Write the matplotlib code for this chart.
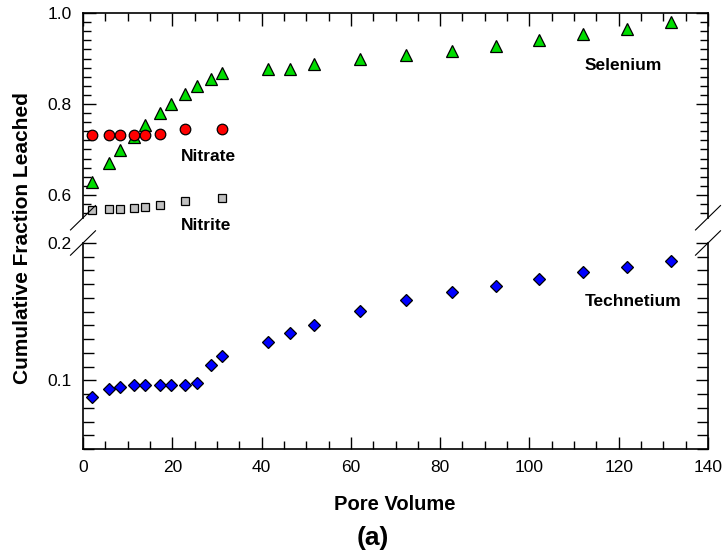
import matplotlib.pyplot as plt
from matplotlib.ticker import MultipleLocator, FixedLocator, FormatStrFormatter
from matplotlib.lines import Line2D

plt.rcParams["font.family"] = ["Liberation Sans", "DejaVu Sans"]

# pore volumes for each sampling interval
pore_volume = [1.95, 5.8, 8.3, 11.5, 13.9, 17.2, 19.6, 22.9, 25.5, 28.6, 31.1,
               41.4, 46.4, 51.8, 62.0, 72.4, 82.6, 92.4, 102.2, 112.1, 121.9, 131.6]

selenium = [0.629, 0.671, 0.699, 0.727, 0.753, 0.780, 0.800, 0.823, 0.840, 0.854, 0.869,
            0.878, 0.878, 0.888, 0.898, 0.908, 0.917, 0.927, 0.941, 0.954, 0.965, 0.980]

technetium = [0.0876, 0.0939, 0.0954, 0.0963, 0.0963, 0.0966, 0.0966, 0.0969, 0.0978, 0.111, 0.1175,
              0.128, 0.1343, 0.1406, 0.1504, 0.1584, 0.1645, 0.1689, 0.1737, 0.1786, 0.1827, 0.1869]

# nitrate / nitrite were only measured over the first few pore volumes
no_pv = [1.95, 5.8, 8.3, 11.5, 13.9, 17.2, 22.9, 31.1]
nitrate = [0.732, 0.732, 0.732, 0.732, 0.732, 0.733, 0.744, 0.745]
nitrite = [0.567, 0.569, 0.570, 0.572, 0.574, 0.579, 0.587, 0.593]

W, H = 722, 556
fig = plt.figure(figsize=(W / 100, H / 100), dpi=100)

left, right = 83, 708
up_top, up_bot = 13, 217.75
lo_top, lo_bot = 243, 449

ax_up = fig.add_axes([left / W, 1 - up_bot / H, (right - left) / W, (up_bot - up_top) / H])
ax_lo = fig.add_axes([left / W, 1 - lo_bot / H, (right - left) / W, (lo_bot - lo_top) / H])

edge = dict(markeredgecolor="black", markeredgewidth=0.9, linestyle="none", clip_on=False, zorder=3)
ax_up.plot(pore_volume, selenium, marker="^", ms=8.2, color="#00dd00", **edge)
ax_up.plot(no_pv, nitrate, marker="o", ms=7.6, color="#ff0000", **edge)
ax_up.plot(no_pv, nitrite, marker="s", ms=6.3, color="#c0c0c0", **edge)
ax_lo.plot(pore_volume, technetium, marker="D", ms=6.4, color="#0000ff", **edge)

ax_up.set_ylim(0.55, 1.0)
ax_lo.set_ylim(0.05, 0.2)
for ax in (ax_up, ax_lo):
    ax.set_xlim(0, 140)
    for sp in ax.spines.values():
        sp.set_linewidth(1.2)
    ax.xaxis.set_major_locator(MultipleLocator(20))
    ax.xaxis.set_minor_locator(MultipleLocator(5))
    ax.yaxis.set_major_formatter(FormatStrFormatter("%.1f"))
    ax.tick_params(which="both", direction="in", left=True, right=True, width=1.0,
                   labelsize=12.5, pad=8)
    ax.tick_params(which="major", length=9)
    ax.tick_params(which="minor", length=6)

ax_up.yaxis.set_major_locator(FixedLocator([0.6, 0.8, 1.0]))
ax_up.yaxis.set_minor_locator(MultipleLocator(0.02))
ax_up.spines["bottom"].set_visible(False)
ax_up.tick_params(axis="x", which="both", bottom=False, top=True, labelbottom=False)

ax_lo.yaxis.set_major_locator(FixedLocator([0.1, 0.2]))
ax_lo.yaxis.set_minor_locator(MultipleLocator(0.01))
ax_lo.spines["top"].set_visible(False)
ax_lo.tick_params(axis="x", which="both", bottom=True, top=False)
ax_lo.tick_params(axis="y", which="minor", length=8)

# series labels
lab = dict(fontsize=12.5, fontweight="bold", ha="center", va="baseline")
ax_up.text(121.0, 0.8747, "Selenium", **lab)
ax_up.text(28.0, 0.6747, "Nitrate", **lab)
ax_up.text(27.5, 0.523, "Nitrite", **lab)
ax_lo.text(123.3, 0.154, "Technetium", **lab)

# axis break marks on both sides
dx, dy = 12.5, 12.2
for x in (left, right):
    for y in (up_bot, lo_top):
        fig.add_artist(Line2D([(x - dx) / W, (x + dx) / W],
                              [1 - (y + dy) / H, 1 - (y - dy) / H],
                              transform=fig.transFigure, color="black", lw=0.8))

fig.text(23 / W, 1 - 238.5 / H, "Cumulative Fraction Leached", rotation=90,
         fontsize=15, fontweight="bold", ha="center", va="center")
fig.text(395 / W, 1 - 505 / H, "Pore Volume", fontsize=14.5, fontweight="bold",
         ha="center", va="center")
fig.text(373 / W, 1 - 538 / H, "(a)", fontsize=19, fontweight="bold",
         ha="center", va="center")

fig.savefig("out.png", dpi=100)
